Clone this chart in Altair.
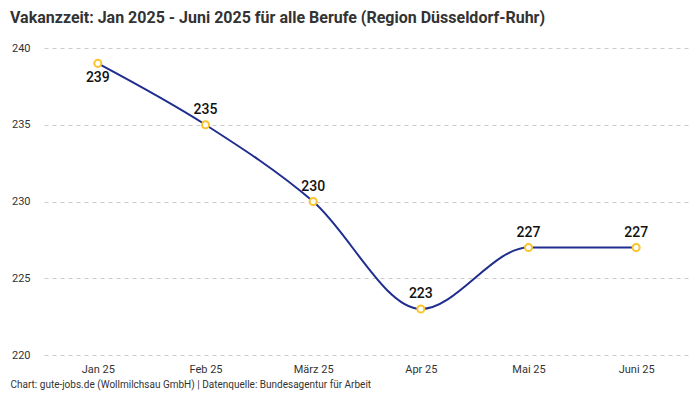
import altair as alt
import pandas as pd

months = ["Jan 25", "Feb 25", "März 25", "Apr 25", "Mai 25", "Juni 25"]
values = [239, 235, 230, 223, 227, 227]
label_below = [True, False, False, False, False, False]

df = pd.DataFrame({"Monat": months, "Wert": values, "below": label_below})

FONT = "Roboto"

x = alt.X("Monat:N", sort=months, scale=alt.Scale(type="point", padding=0.5),
          axis=alt.Axis(title="Chart: gute-jobs.de (Wollmilchsau GmbH) | Datenquelle: Bundesagentur für Arbeit",
                        titleAnchor="start", titleAlign="left", titleX=-34, titleY=24,
                        titleBaseline="top",
                        titleFontSize=10, titleFontWeight="normal", titleColor="#333", titleFont=FONT,
                        labelAngle=0, labelFontSize=11, labelColor="#333", labelFont=FONT,
                        labelPadding=8, domain=False, ticks=False, grid=False))
y = alt.Y("Wert:Q", scale=alt.Scale(domain=[220, 240], nice=False, zero=False),
          axis=alt.Axis(title=None, values=[220, 225, 230, 235, 240], domain=False, ticks=False,
                        labelFontSize=11, labelColor="#333", labelFont=FONT, labelPadding=14,
                        grid=True, gridDash=[4, 4], gridColor="#cccccc", gridWidth=1))

base = alt.Chart(df).encode(x=x, y=y)

line = base.mark_line(interpolate="monotone", color="#1f2d8f", strokeWidth=2)
points = base.mark_point(shape="circle", filled=True, fill="white", stroke="#fbc42a",
                         strokeWidth=2, size=50, opacity=1)
labels_above = base.transform_filter("!datum.below").mark_text(
    dy=-15, fontSize=14, fontWeight=500, color="#111", font=FONT).encode(text="Wert:Q")
labels_below = base.transform_filter("datum.below").mark_text(
    dy=15, fontSize=14, fontWeight=500, color="#111", font=FONT).encode(text="Wert:Q")

chart = alt.layer(line, points, labels_above, labels_below).properties(
    width=646, height=307,
    autosize=alt.AutoSizeParams(type="none"),
    padding={"left": 36, "top": 40, "right": 2, "bottom": 37},
    title=alt.TitleParams(
        "Vakanzzeit: Jan 2025 - Juni 2025 für alle Berufe (Region Düsseldorf-Ruhr)",
        anchor="start", dx=-34, offset=16, fontSize=16, fontWeight="bold",
        color="#333", font=FONT, frame="group"),
).configure_view(stroke=None)

chart.save("out.html", embed_options={"renderer": "svg", "actions": False})
